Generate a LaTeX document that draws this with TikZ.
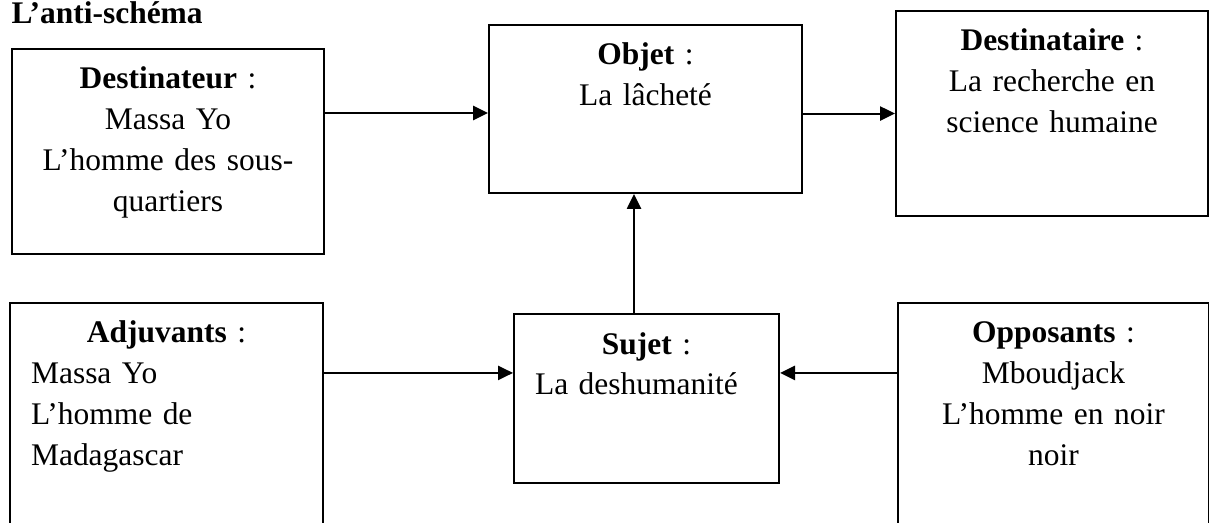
\documentclass[tikz,border=0pt]{standalone}
\usepackage{fontspec}
\setmainfont{Liberation Serif}
\usetikzlibrary{arrows.meta}

\tikzset{
   actant/.style n args={2}{draw, line width=0.75pt, anchor=north west,
      inner xsep=0pt, inner ysep=0pt, align=center,
      text width=#1, text height=15pt, text depth=#2},
   fleche/.style={line width=0.75pt, -{Triangle[length=5.6pt,width=5.3pt]}}
}
\newcommand{\alagauche}[2]{\makebox[#1][l]{#2}}

\begin{document}
\begin{tikzpicture}[x=0.375pt, y=-0.375pt, font=\fontsize{11.8}{15.3}\selectfont]
   \useasboundingbox (0,0) rectangle (1209,523);
   \clip (0,0) rectangle (1209,523);
   \node[anchor=base west, inner sep=0pt] (titre) at (11,24) {\textbf{L’anti-schéma}};
   % ligne du haut
   \node[actant={117pt}{61.9pt}] (dstr) at (11,48)
      {\textbf{Destinateur} :\\Massa Yo\\L’homme des sous-\\quartiers};
   \node[actant={117.4pt}{48pt}] (objet) at (488,24)
      {\textbf{Objet} :\\La lâcheté};
   \node[actant={117pt}{61.9pt}] (dtaire) at (895,10)
      {\textbf{Destinataire} :\\La recherche en\\science humaine};
   % ligne du bas
   \node[actant={117.4pt}{120pt}] (adj) at (9,302)
      {\textbf{Adjuvants} :\\\alagauche{101.6pt}{Massa Yo}\\
       \alagauche{101.6pt}{L’homme de}\\\alagauche{101.6pt}{Madagascar}};
   \node[actant={99.4pt}{48.4pt}] (sujet) at (513,313)
      {\textbf{Sujet} :\\\alagauche{83.6pt}{La deshumanité}};
   \node[actant={116.6pt}{120pt}] (opp) at (897,302)
      {\textbf{Opposants} :\\Mboudjack\\L’homme en noir\\noir};
    \path[fleche]
    ([yshift=-1.5pt]objet.west -| dstr.east) edge ([yshift=-1.5pt]objet.west)
    (objet.east |- dtaire.west)              edge (dtaire.west)
    ([xshift=-4.7pt]sujet.north)             edge ([xshift=-4.7pt]sujet.north |- objet.south)
    ([yshift=9.6pt]sujet.west -| adj.east)   edge ([yshift=9.6pt]sujet.west)
    ([yshift=9.6pt]sujet.east -| opp.west)   edge ([yshift=9.6pt]sujet.east);
\end{tikzpicture}
\end{document}
